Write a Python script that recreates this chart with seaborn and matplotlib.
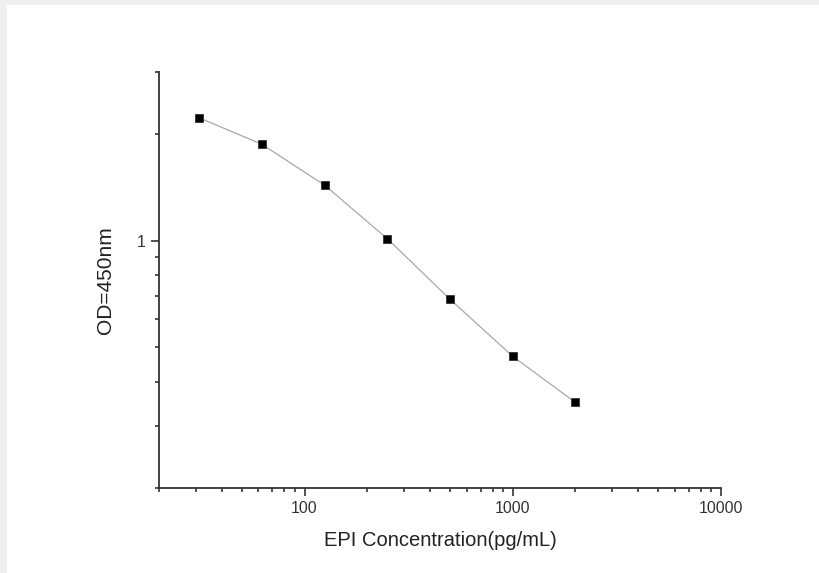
import numpy as np
import pandas as pd
import matplotlib
matplotlib.use("Agg")
import matplotlib.pyplot as plt
from matplotlib.patches import Rectangle
from matplotlib.ticker import LogLocator, NullFormatter, FixedLocator, FixedFormatter
import seaborn as sns

# Standard curve data
concentration = [31.25, 62.5, 125, 250, 500, 1000, 2000]  # pg/mL
od450 = [2.225, 1.873, 1.435, 1.013, 0.683, 0.471, 0.349]

x_ticks = [100, 1000, 10000]
x_tick_labels = ["100", "1000", "10000"]
y_ticks = [1]
y_tick_labels = ["1"]

df = pd.DataFrame({"conc": concentration, "od": od450})

sns.set_style("ticks")
plt.rcParams["font.family"] = ["Liberation Sans", "DejaVu Sans"]

fig = plt.figure(figsize=(8.19, 5.73), dpi=100)
fig.patch.set_facecolor("#efefef")
# white page area with a thin grey frame on the top and left
fig.add_artist(Rectangle((7 / 819, 0), 1, 1 - 5 / 573, transform=fig.transFigure,
                         facecolor="white", edgecolor="none", zorder=0))

ax = fig.add_axes([159 / 819, 1 - 488 / 573, (721 - 159) / 819, (488 - 72) / 573])
ax.set_facecolor("none")
ax.set_zorder(2)

sns.lineplot(data=df, x="conc", y="od", ax=ax, color="#a8a8a8", linewidth=0.9,
             marker="s", markersize=6, markerfacecolor="black",
             markeredgecolor="#222222", markeredgewidth=0.5)

ax.set_xscale("log")
ax.set_yscale("log")
ax.set_xlim(20, 10000)
ax.set_ylim(0.2, 3)

ax.xaxis.set_major_locator(FixedLocator(x_ticks))
ax.xaxis.set_major_formatter(FixedFormatter(x_tick_labels))
ax.xaxis.set_minor_locator(LogLocator(base=10, subs=np.arange(2, 10)))
ax.xaxis.set_minor_formatter(NullFormatter())
ax.yaxis.set_major_locator(FixedLocator(y_ticks))
ax.yaxis.set_major_formatter(FixedFormatter(y_tick_labels))
ax.yaxis.set_minor_locator(LogLocator(base=10, subs=np.arange(2, 10)))
ax.yaxis.set_minor_formatter(NullFormatter())

sns.despine(ax=ax)
for side in ["left", "bottom"]:
    ax.spines[side].set_linewidth(1.3)
    ax.spines[side].set_color("#333333")

ax.tick_params(which="major", length=5.5, width=1.2, color="#333333",
               labelsize=11.5, labelcolor="#333333", pad=4)
ax.tick_params(which="minor", length=3.2, width=1.2, color="#333333")

ax.set_xlabel("EPI Concentration(pg/mL)", fontsize=14.5, color="#222222", labelpad=11)
ax.set_ylabel("OD=450nm", fontsize=15, color="#222222", labelpad=16)

fig.savefig("out.png", dpi=100, facecolor=fig.get_facecolor())
